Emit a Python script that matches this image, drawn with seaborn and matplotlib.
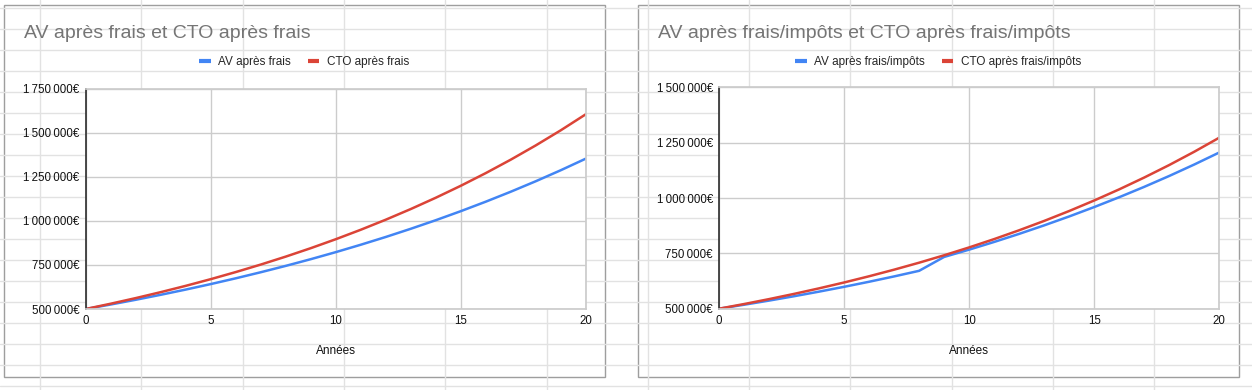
import numpy as np
import pandas as pd
import matplotlib.pyplot as plt
import seaborn as sns
from matplotlib.patches import Rectangle
from matplotlib.lines import Line2D

annees = list(range(0, 21))

av_frais = [500000, 525500, 552300, 580500, 610100, 641200, 673900, 708300,
            744400, 782300, 822200, 864200, 908200, 954600, 1003200, 1054400,
            1108200, 1164700, 1224100, 1286500, 1352100]
cto_frais = [500000, 530000, 561800, 595500, 631200, 669100, 709300, 751800,
             796900, 844700, 895400, 949100, 1006100, 1066500, 1130500,
             1198300, 1270200, 1346400, 1427200, 1512800, 1603600]

av_impots = [500000, 517900, 536600, 556300, 577100, 598800, 621700, 645800,
             671100, 733800, 766800, 801500, 838000, 876400, 916700, 959100,
             1003600, 1050400, 1099600, 1151300, 1205600]
cto_impots = [500000, 521000, 543300, 566900, 591900, 618400, 646500, 676300,
              707800, 741300, 776800, 814400, 854300, 896500, 941300, 988800,
              1039100, 1092500, 1149000, 1209000, 1272500]

labels_frais = ["AV après frais", "CTO après frais"]
labels_impots = ["AV après frais/impôts", "CTO après frais/impôts"]

BLEU = '#4285f4'
ROUGE = '#db4437'
GRILLE = '#cccccc'

sns.set_theme(style='white')
plt.rcParams['font.family'] = ['Liberation Sans', 'DejaVu Sans']

W, H = 1252, 390
fig = plt.figure(figsize=(W / 100, H / 100), dpi=100)

# fond "tableur" derriere les graphiques, en pixels
bg = fig.add_axes([0, 0, 1, 1], zorder=0)
bg.set_xlim(0, W)
bg.set_ylim(H, 0)
bg.axis('off')
for x in np.arange(40, W, 101.3):
    bg.axvline(x, color='#e2e2e2', lw=1)
for y in np.arange(385.5, 0, -21):
    bg.axhline(y, color='#e2e2e2', lw=1)


def euros(v, pos=None):
    return f"{v:,.0f}".replace(',', '\u202f') + '€'


def graphique(box, zone, titre, av, cto, labels, ymax):
    '''
    Dessine un graphique style Google Sheets dans le cadre box (pixels)
    '''
    bx0, by0, bx1, by1 = box
    bg.add_patch(Rectangle((bx0, by0), bx1 - bx0, by1 - by0,
                           facecolor='white', edgecolor='#9e9e9e', lw=1))
    bg.text(bx0 + 20, 33, titre, fontsize=14, color='#757575', va='center')

    x0, x1, y0, y1 = zone
    ax = fig.add_axes([x0 / W, 1 - y1 / H, (x1 - x0) / W, (y1 - y0) / H],
                      zorder=1)

    df = pd.DataFrame({'Années': annees * 2,
                       'Valeur': av + cto,
                       'Série': [labels[0]] * len(av) + [labels[1]] * len(cto)})
    sns.lineplot(data=df, x='Années', y='Valeur', hue='Série',
                 palette=[BLEU, ROUGE], linewidth=1.8, legend=False, ax=ax)

    ax.set_xlim(0, 20)
    ax.set_ylim(500000, ymax)
    ax.set_xticks(range(0, 21, 5))
    ax.set_yticks(range(500000, ymax + 1, 250000))
    ax.yaxis.set_major_formatter(plt.FuncFormatter(euros))
    ax.set_xlabel('')
    ax.set_ylabel('')
    ax.grid(True, color=GRILLE, lw=1)
    ax.set_axisbelow(True)
    for s in ['top', 'right', 'bottom']:
        ax.spines[s].set_color(GRILLE)
    ax.spines['left'].set_color('#333333')
    ax.tick_params(axis='both', length=0, labelsize=8.3, colors='#111111')
    ax.tick_params(axis='y', pad=4.5)
    ax.tick_params(axis='x', pad=4.5)

    # legende centree sur le cadre
    poignees = [Line2D([0], [0], color=BLEU, lw=3, solid_capstyle='butt'),
                Line2D([0], [0], color=ROUGE, lw=3, solid_capstyle='butt')]
    ax.legend(poignees, labels, loc='center', ncol=2, frameon=False,
              bbox_to_anchor=((bx0 + bx1) / 2 / W, 1 - 61.7 / H),
              bbox_transform=fig.transFigure, fontsize=8.5,
              handlelength=1.0, handletextpad=0.65, columnspacing=1.4)

    bg.text((x0 + x1) / 2, 351, 'Années', fontsize=8.5, color='#111111',
            ha='center', va='center')
    return ax


graphique((3.5, 4.5, 604.5, 376.5), (85.7, 585.7, 88.5, 309),
          "AV après frais et CTO après frais",
          av_frais, cto_frais, labels_frais, 1750000)

graphique((637.5, 4.5, 1238.5, 376.5), (719, 1219.3, 87.3, 308.7),
          "AV après frais/impôts et CTO après frais/impôts",
          av_impots, cto_impots, labels_impots, 1500000)

plt.savefig('out.png', dpi=100)
